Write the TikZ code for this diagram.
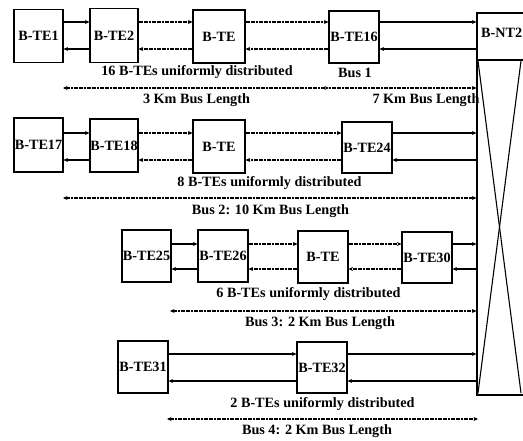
\documentclass[tikz,border=0pt]{standalone}
\usepackage{fontspec}
\setmainfont{Liberation Serif}
\usetikzlibrary{arrows.meta}
\begin{document}
\begin{tikzpicture}[x=1pt,y=-1pt,
  tebox/.style={draw,line width=1.1pt,inner sep=0pt,minimum width=50pt,minimum height=52pt,font=\fontsize{14.2}{15}\selectfont\bfseries},
  lbl/.style={font=\fontsize{14.2}{15}\selectfont\bfseries,inner sep=0pt},
  solidlink/.style={line width=1.1pt,-{Stealth[length=4.5pt,width=4pt]}},
  dotlink/.style={line width=1.3pt,dash pattern=on 2pt off 0.6pt,-{Stealth[length=4.5pt,width=4pt]}},
  busarrow/.style={line width=1.3pt,dash pattern=on 2pt off 0.6pt}
]
\useasboundingbox (0,0) rectangle (523,441);
% B-NT2
\node[draw,line width=1.1pt,minimum width=52pt,minimum height=382pt,inner sep=0pt] (nt2) at (503,204) {};
\node[lbl,anchor=west] (nt2label) at (481,33) {B-NT2};
\coordinate (ntdivL) at (477,60);
\coordinate (ntdivR) at (529,60);
\draw[line width=1.1pt] (ntdivL) -- (ntdivR);
\coordinate (xa) at (478,61);
\coordinate (xb) at (521,393);
\coordinate (xc) at (521,61);
\coordinate (xd) at (478,393);
\draw[line width=1.1pt] (xa) -- (xb);
\draw[line width=1.1pt] (xc) -- (xd);

% Row 1
\node[tebox,minimum width=49pt,minimum height=53pt] (te1) at (38.5,36) {B-TE1};
\node[tebox,minimum width=48pt,minimum height=54pt] (te2) at (114,35.5) {B-TE2};
\node[tebox,minimum width=52pt,minimum height=53pt] (teA) at (219,36.5) {B-TE};
\node[tebox,minimum width=50pt,minimum height=52pt] (te16) at (354,37) {B-TE16};
\draw[solidlink] (te1.east |- 0,22) -- (te2.west |- 0,22);
\draw[solidlink] (te2.west |- 0,49) -- (te1.east |- 0,49);
\draw[dotlink] (te2.east |- 0,22) -- (teA.west |- 0,22);
\draw[dotlink] (teA.west |- 0,49) -- (te2.east |- 0,49);
\draw[dotlink] (teA.east |- 0,22) -- (te16.west |- 0,22);
\draw[dotlink] (te16.west |- 0,49) -- (teA.east |- 0,49);
\draw[solidlink] (te16.east |- 0,22) -- (nt2.west |- 0,22);
\draw[solidlink] (nt2.west |- 0,49) -- (te16.east |- 0,49);
\node[lbl] (d1) at (197,72) {16 B-TEs uniformly distributed};
\node[lbl] (b1) at (355,73) {Bus 1};
\coordinate (bus1L) at (63,88);
\coordinate (bus1M) at (329,88);
\draw[busarrow,{Stealth[length=4.5pt,width=4pt]}-{Stealth[length=4.5pt,width=4pt]}] (bus1L) -- (bus1M);
\draw[busarrow,-{Stealth[length=4.5pt,width=4pt]}] (bus1M) -- (nt2.west |- bus1M);
\node[lbl] (l1a) at (196.5,100) {3 Km Bus Length};
\node[lbl] (l1b) at (426,100) {7 Km Bus Length};

% Row 2
\node[tebox,minimum width=49pt,minimum height=54pt] (te17) at (38.5,145) {B-TE17};
\node[tebox,minimum width=48pt,minimum height=53pt] (te18) at (114,145.5) {B-TE18};
\node[tebox,minimum width=52pt,minimum height=53pt] (teB) at (219,146.5) {B-TE};
\node[tebox,minimum width=50pt,minimum height=51pt] (te24) at (367,147.5) {B-TE24};
\draw[solidlink] (te17.east |- 0,133) -- (te18.west |- 0,133);
\draw[solidlink] (te18.west |- 0,160) -- (te17.east |- 0,160);
\draw[dotlink] (te18.east |- 0,133) -- (teB.west |- 0,133);
\draw[dotlink] (teB.west |- 0,160) -- (te18.east |- 0,160);
\draw[dotlink] (teB.east |- 0,133) -- (te24.west |- 0,133);
\draw[dotlink] (te24.west |- 0,160) -- (teB.east |- 0,160);
\draw[solidlink] (te24.east |- 0,133) -- (nt2.west |- 0,133);
\draw[solidlink] (nt2.west |- 0,160) -- (te24.east |- 0,160);
\node[lbl] (d2) at (269.5,183) {8 B-TEs uniformly distributed};
\coordinate (bus2L) at (63,198);
\draw[busarrow,{Stealth[length=4.5pt,width=4pt]}-{Stealth[length=4.5pt,width=4pt]}] (bus2L) -- (nt2.west |- bus2L);
\node[lbl] (l2) at (270.5,211) {Bus 2: 10 Km Bus Length};

% Row 3
\node[tebox,minimum width=49pt,minimum height=52pt] (te25) at (146.5,256) {B-TE25};
\node[tebox,minimum width=50pt,minimum height=52pt] (te26) at (223,256) {B-TE26};
\node[tebox,minimum width=50pt,minimum height=52pt] (teC) at (323,257) {B-TE};
\node[tebox,minimum width=50pt,minimum height=51pt] (te30) at (427,257.5) {B-TE30};
\draw[solidlink] (te25.east |- 0,244) -- (te26.west |- 0,244);
\draw[solidlink] (te26.west |- 0,269) -- (te25.east |- 0,269);
\draw[dotlink] (te26.east |- 0,244) -- (teC.west |- 0,244);
\draw[dotlink] (teC.west |- 0,269) -- (te26.east |- 0,269);
\draw[dotlink] (teC.east |- 0,244) -- (te30.west |- 0,244);
\draw[dotlink] (te30.west |- 0,269) -- (teC.east |- 0,269);
\draw[solidlink] (te30.east |- 0,244) -- (nt2.west |- 0,244);
\draw[solidlink] (nt2.west |- 0,269) -- (te30.east |- 0,269);
\node[lbl] (d3) at (308.5,294) {6 B-TEs uniformly distributed};
\coordinate (bus3L) at (170,311);
\draw[busarrow,{Stealth[length=4.5pt,width=4pt]}-{Stealth[length=4.5pt,width=4pt]}] (bus3L) -- (nt2.west |- bus3L);
\node[lbl] (l3) at (320,323) {Bus 3: 2 Km Bus Length};

% Row 4
\node[tebox,minimum width=50pt,minimum height=52pt] (te31) at (143,367) {B-TE31};
\node[tebox,minimum width=50pt,minimum height=51pt] (te32) at (322,367.5) {B-TE32};
\draw[solidlink] (te31.east |- 0,354) -- (te32.west |- 0,354);
\draw[solidlink] (te32.west |- 0,381) -- (te31.east |- 0,381);
\draw[solidlink] (te32.east |- 0,354) -- (nt2.west |- 0,354);
\draw[solidlink] (nt2.west |- 0,381) -- (te32.east |- 0,381);
\node[lbl] (d4) at (322.5,404) {2 B-TEs uniformly distributed};
\coordinate (bus4L) at (167,419);
\coordinate (bus4R) at (478,419);
\draw[busarrow,{Stealth[length=4.5pt,width=4pt]}-{Stealth[length=4.5pt,width=4pt]}] (bus4L) -- (bus4R);
\node[lbl] (l4) at (317,431) {Bus 4: 2 Km Bus Length};
\end{tikzpicture}
\end{document}
